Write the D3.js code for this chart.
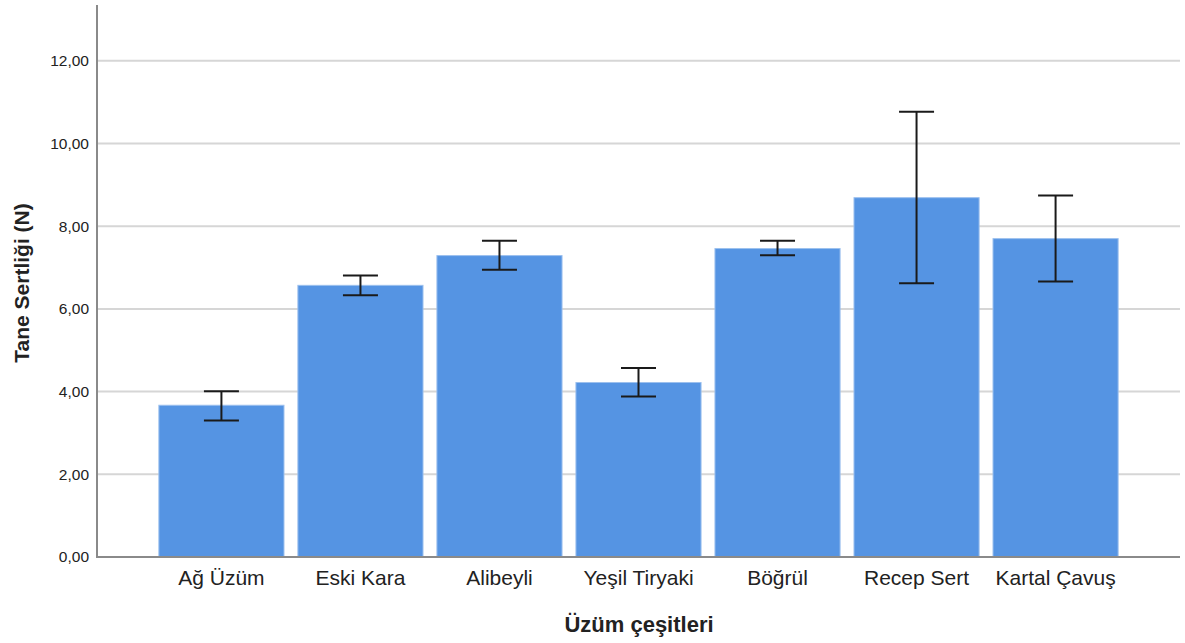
<!DOCTYPE html>
<html><head><meta charset="utf-8">
<script src="https://cdn.jsdelivr.net/npm/d3@7"></script>
<style>body{margin:0;background:#fff}svg{display:block}text{font-family:"Liberation Sans",Arial,sans-serif;fill:#222}</style>
</head><body><svg id="c" width="1185" height="643"></svg>
<script>
const categories = ["Ağ Üzüm","Eski Kara","Alibeyli","Yeşil Tiryaki","Böğrül","Recep Sert","Kartal Çavuş"];
const means = [3.67, 6.57, 7.29, 4.22, 7.46, 8.69, 7.70];
const errLow = [3.30, 6.33, 6.95, 3.88, 7.30, 6.62, 6.66];
const errHigh = [4.01, 6.81, 7.65, 4.57, 7.65, 10.77, 8.74];
const yTicks = [0, 2, 4, 6, 8, 10, 12];
const yTickLabels = ["0,00","2,00","4,00","6,00","8,00","10,00","12,00"];
const xTitle = "Üzüm çeşitleri";
const yTitle = "Tane Sertliği (N)";

const svg = d3.select("#c");
const pLeft = 97, pRight = 1180, pTop = 5, pBottom = 557;
const x = d3.scaleBand().domain(categories).range([pLeft, pRight]).paddingInner(0.1).paddingOuter(0.445);
const y = d3.scaleLinear().domain([0, 13.35]).range([pBottom, pTop]);

// gridlines
svg.append("g").selectAll("line").data(yTicks.filter(d => d > 0)).join("line")
  .attr("x1", pLeft).attr("x2", pRight).attr("y1", d => y(d)).attr("y2", d => y(d))
  .attr("stroke", "#d6d6d6").attr("stroke-width", 2);

// bars
svg.append("g").selectAll("rect").data(categories).join("rect")
  .attr("x", d => x(d)).attr("width", x.bandwidth())
  .attr("y", (d, i) => y(means[i])).attr("height", (d, i) => y(0) - y(means[i]))
  .attr("fill", "#5594e3").attr("stroke", "#9cc0ee").attr("stroke-width", 1);

// error bars
const eb = svg.append("g").attr("stroke", "#1a1a1a").attr("stroke-width", 2);
categories.forEach((c, i) => {
  const cx = x(c) + x.bandwidth() / 2;
  eb.append("line").attr("x1", cx).attr("x2", cx).attr("y1", y(errLow[i])).attr("y2", y(errHigh[i]));
  eb.append("line").attr("x1", cx - 17.5).attr("x2", cx + 17.5).attr("y1", y(errLow[i])).attr("y2", y(errLow[i]));
  eb.append("line").attr("x1", cx - 17.5).attr("x2", cx + 17.5).attr("y1", y(errHigh[i])).attr("y2", y(errHigh[i]));
});

// axes
const yAxis = svg.append("g").attr("transform", `translate(${pLeft},0)`)
  .call(d3.axisLeft(y).tickValues(yTicks).tickFormat((d, i) => yTickLabels[i]).tickSize(0).tickPadding(8));
yAxis.select(".domain").remove();
yAxis.selectAll("text").attr("font-size", 15.5).attr("font-family", "Liberation Sans, Arial, sans-serif").attr("fill", "#222");

const xAxis = svg.append("g").attr("transform", `translate(0,${pBottom})`)
  .call(d3.axisBottom(x).tickSize(0).tickPadding(13));
xAxis.select(".domain").remove();
xAxis.selectAll("text").attr("font-size", 21).attr("font-family", "Liberation Sans, Arial, sans-serif").attr("fill", "#222");

svg.append("line").attr("x1", pLeft).attr("x2", pLeft).attr("y1", pTop).attr("y2", pBottom + 1)
  .attr("stroke", "#8a8a8a").attr("stroke-width", 2);
svg.append("line").attr("x1", pLeft).attr("x2", pRight).attr("y1", pBottom).attr("y2", pBottom)
  .attr("stroke", "#8a8a8a").attr("stroke-width", 2);

// titles
svg.append("text").attr("x", (pLeft + pRight) / 2 + 0.5).attr("y", 632).attr("text-anchor", "middle")
  .attr("font-size", 22).attr("font-weight", "bold").attr("fill", "#111").text(xTitle);
svg.append("text").attr("transform", "translate(29,283) rotate(-90)").attr("text-anchor", "middle")
  .attr("font-size", 21).attr("font-weight", "bold").attr("fill", "#111").text(yTitle);
</script></body></html>
